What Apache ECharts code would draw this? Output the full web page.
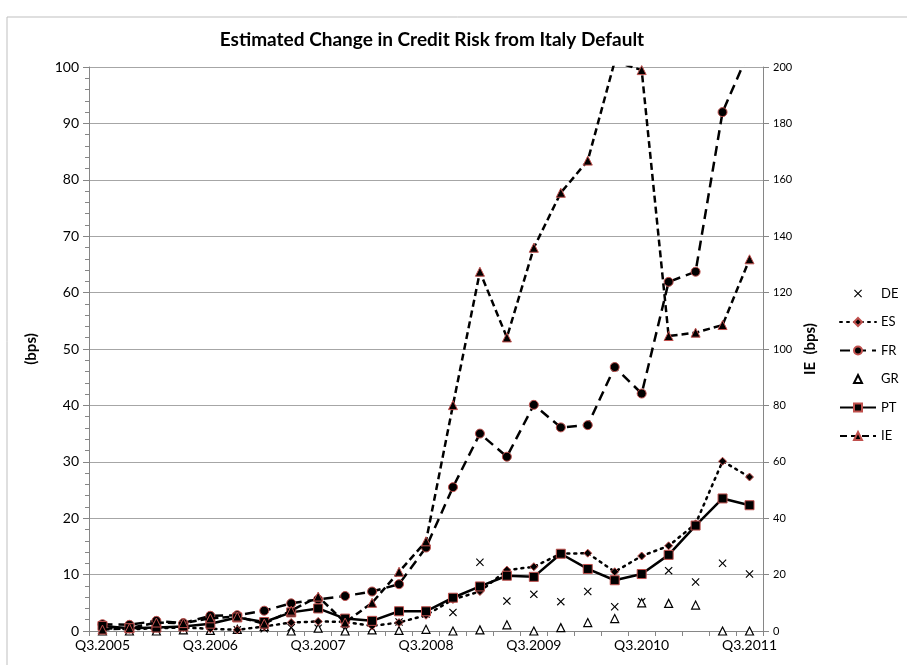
<!DOCTYPE html>
<html>
<head>
<meta charset="utf-8">
<script src="https://cdn.jsdelivr.net/npm/echarts@6/dist/echarts.min.js"></script>
<style>
  html, body { margin: 0; padding: 0; background: #fff; }
  #chart { width: 907px; height: 665px; }
</style>
</head>
<body>
<div id="chart"></div>
<script>
// Quarterly categories Q3.2005 .. Q3.2011
const quarters = [
  'Q3.2005','Q4.2005','Q1.2006','Q2.2006','Q3.2006','Q4.2006','Q1.2007','Q2.2007',
  'Q3.2007','Q4.2007','Q1.2008','Q2.2008','Q3.2008','Q4.2008','Q1.2009','Q2.2009',
  'Q3.2009','Q4.2009','Q1.2010','Q2.2010','Q3.2010','Q4.2010','Q1.2011','Q2.2011','Q3.2011'
];

// Estimated change in credit risk (bps), left axis
const de = [0.3, 0.2, 0.2, 0.3, 0.2, 0.2, 0.4, 0.6, 0.5, 0.2, 0.4, 1.6, 3.0, 3.3, 12.2, 5.3, 6.5, 5.2, 7.0, 4.3, 5.2, 10.7, 8.7, 12.0, 10.1];
const es = [0.5, 0.3, 0.5, 0.6, 0.4, 0.2, 0.8, 1.5, 1.7, 1.6, 0.9, 1.5, 2.8, 5.6, 7.0, 10.8, 11.4, 13.7, 13.8, 10.5, 13.3, 15.1, 19.0, 30.1, 27.3];
const fr = [1.2, 1.1, 1.8, 1.4, 2.7, 2.8, 3.6, 4.9, 5.6, 6.2, 7.0, 8.3, 14.8, 25.5, 35.0, 30.9, 40.1, 36.1, 36.5, 46.8, 42.1, 61.9, 63.7, 92.0, 103.0];
const gr = [0.0, 0.0, 0.0, 0.2, 0.1, 0.3, 0.8, 0.0, 0.5, 0.0, 0.2, 0.1, 0.3, 0.0, 0.2, 1.1, 0.0, 0.6, 1.5, 2.2, 5.0, 4.9, 4.6, 0.0, 0.0];
const pt = [0.9, 0.5, 0.6, 0.8, 1.3, 2.4, 1.6, 3.3, 4.0, 2.2, 1.8, 3.5, 3.5, 5.9, 7.9, 9.8, 9.6, 13.7, 11.0, 9.0, 10.1, 13.5, 18.7, 23.5, 22.3];
// Ireland on the right axis (bps)
const ie = [0.5, 1.0, 3.0, 2.8, 4.5, 5.1, 2.6, 7.2, 12.2, 3.0, 10.0, 21.0, 31.8, 80.1, 127.4, 104.1, 135.9, 155.4, 166.8, 202.0, 198.9, 104.6, 105.8, 108.5, 131.8];

const FONT = 'Lato, "Open Sans", sans-serif';
const RED = '#c0504d';
const AXIS_GREY = '#868686';
const crossPath = 'path://M0,1L1,0L5,4L9,0L10,1L6,5L10,9L9,10L5,6L1,10L0,9L4,5Z';

const chart = echarts.init(document.getElementById('chart'), null, { renderer: 'canvas' });

// markers only, no connecting line
const markerOnly = { width: 0, opacity: 0 };

chart.setOption({
  backgroundColor: '#fff',
  animation: false,
  textStyle: { fontFamily: FONT, color: '#000' },
  graphic: [{
    type: 'rect',
    shape: { x: 7, y: 17, width: 960, height: 720 },
    style: { fill: 'none', stroke: '#bfbfbf', lineWidth: 1 },
    silent: true
  }],
  title: {
    text: 'Estimated Change in Credit Risk from Italy Default',
    left: 427, top: 25, textAlign: 'center',
    textStyle: { fontFamily: FONT, fontSize: 19, fontWeight: 'bold', color: '#000' }
  },
  legend: {
    orient: 'vertical',
    left: 834, top: 282,
    itemWidth: 36, itemHeight: 10, itemGap: 15.5,
    textStyle: { fontFamily: FONT, fontSize: 13, color: '#000' },
    data: ['DE', 'ES', 'FR', 'GR', 'PT', 'IE']
  },
  grid: { left: 89, right: 144, top: 67, bottom: 34 },
  xAxis: {
    type: 'category',
    data: quarters,
    boundaryGap: true,
    axisLine: { lineStyle: { color: AXIS_GREY, width: 1 } },
    axisTick: { show: true, interval: 0, length: 5, lineStyle: { color: AXIS_GREY } },
    axisLabel: { interval: 3, fontFamily: FONT, fontSize: 14, color: '#000', margin: 7 }
  },
  yAxis: [{
    type: 'value',
    min: 0, max: 100, interval: 10,
    name: '(bps)',
    nameLocation: 'middle', nameRotate: 90, nameGap: 50,
    nameTextStyle: { fontFamily: FONT, fontSize: 15, fontWeight: 'bold', color: '#000' },
    axisLine: { show: true, lineStyle: { color: AXIS_GREY } },
    axisTick: { show: true, length: 6, lineStyle: { color: AXIS_GREY } },
    minorTick: { show: true, splitNumber: 5, length: 4, lineStyle: { color: AXIS_GREY } },
    splitLine: { show: true, lineStyle: { color: '#a6a6a6', width: 1 } },
    axisLabel: { fontFamily: FONT, fontSize: 14, color: '#000', margin: 10 }
  }, {
    type: 'value',
    min: 0, max: 200, interval: 20,
    name: 'IE  (bps)',
    nameLocation: 'middle', nameRotate: 90, nameGap: 39,
    nameTextStyle: { fontFamily: FONT, fontSize: 15, fontWeight: 'bold', color: '#000' },
    axisLine: { show: true, lineStyle: { color: AXIS_GREY } },
    axisTick: { show: true, length: 6, lineStyle: { color: AXIS_GREY } },
    splitLine: { show: false },
    axisLabel: { fontFamily: FONT, fontSize: 11, color: '#000', margin: 10 }
  }],
  series: [
    {
      name: 'DE', type: 'line', data: de, yAxisIndex: 0,
      symbol: crossPath, symbolSize: 8, showAllSymbol: true,
      lineStyle: markerOnly,
      itemStyle: { color: '#000' }, z: 3
    },
    {
      name: 'ES', type: 'line', data: es, yAxisIndex: 0,
      symbol: 'diamond', symbolSize: 8, showAllSymbol: true,
      lineStyle: { color: '#000', width: 2.5, type: [2, 5], cap: 'round' },
      itemStyle: { color: '#000', borderColor: RED, borderWidth: 1 }, z: 4
    },
    {
      name: 'FR', type: 'line', data: fr, yAxisIndex: 0,
      symbol: 'circle', symbolSize: 9, showAllSymbol: true,
      lineStyle: { color: '#000', width: 2.5, type: [10, 6] },
      itemStyle: { color: '#000', borderColor: RED, borderWidth: 1 }, z: 5
    },
    {
      name: 'GR', type: 'line', data: gr, yAxisIndex: 0,
      symbol: 'triangle', symbolSize: 8, showAllSymbol: true,
      lineStyle: markerOnly,
      itemStyle: { color: '#fff', borderColor: '#000', borderWidth: 1.2 }, z: 3
    },
    {
      name: 'PT', type: 'line', data: pt, yAxisIndex: 0,
      symbol: 'rect', symbolSize: 9, showAllSymbol: true,
      lineStyle: { color: '#000', width: 2.5, type: 'solid' },
      itemStyle: { color: '#000', borderColor: RED, borderWidth: 1 }, z: 6
    },
    {
      name: 'IE', type: 'line', data: ie, yAxisIndex: 1,
      symbol: 'triangle', symbolSize: 9, showAllSymbol: true,
      lineStyle: { color: '#000', width: 2.5, type: [7, 4] },
      itemStyle: { color: '#000', borderColor: RED, borderWidth: 1 }, z: 7
    }
  ]
});
</script>
</body>
</html>
